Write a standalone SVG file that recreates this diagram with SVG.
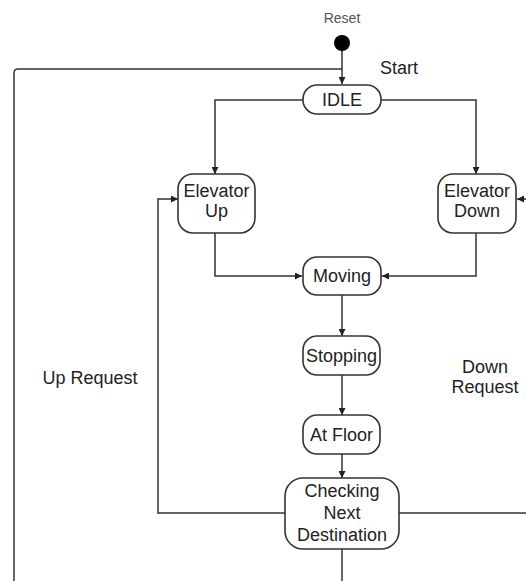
<svg xmlns="http://www.w3.org/2000/svg" width="526" height="581" viewBox="0 0 526 581">
<style>
.node{fill:#fff;stroke:#333;stroke-width:1.6}
.lbl{font-family:"Liberation Sans",Arial,sans-serif;font-size:18px;fill:#222;text-anchor:middle}
.edge{fill:none;stroke:#333;stroke-width:1.5}
</style>
<defs>
<marker id="ah" viewBox="0 0 10 10" refX="10" refY="5" markerWidth="7" markerHeight="7" markerUnits="userSpaceOnUse" orient="auto">
<path d="M0,0 L10,5 L0,10 Z" fill="#222"/>
</marker>
</defs>
<rect width="526" height="581" fill="#fff"/>
<g id="connectors">
<path class="edge" d="M342,50 V84" marker-end="url(#ah)"/>
<path class="edge" d="M342,69 H18 Q14,69 14,73 V581"/>
<path class="edge" d="M303,100 H215 V174" marker-end="url(#ah)"/>
<path class="edge" d="M381,100 H476 V174" marker-end="url(#ah)"/>
<path class="edge" d="M215,233 V276 H302" marker-end="url(#ah)"/>
<path class="edge" d="M476,233 V276 H382" marker-end="url(#ah)"/>
<path class="edge" d="M342,295 V336" marker-end="url(#ah)"/>
<path class="edge" d="M342,375 V415" marker-end="url(#ah)"/>
<path class="edge" d="M342,454 V478" marker-end="url(#ah)"/>
<path class="edge" d="M285,513 H158 V199 H178" marker-end="url(#ah)"/>
<path class="edge" d="M399,513 H526"/>
<path class="edge" d="M526,199 H517" marker-end="url(#ah)"/>
<path class="edge" d="M342,549 V581"/>
</g>
<g id="reset">
<text x="342" y="23" font-family="'Liberation Sans',Arial,sans-serif" font-size="14" fill="#555" text-anchor="middle">Reset</text>
<circle cx="342" cy="43" r="8" fill="#000"/>
</g>
<text class="lbl" x="399" y="74">Start</text>
<text class="lbl" x="90" y="384">Up Request</text>
<text class="lbl" x="485" y="373">Down</text>
<text class="lbl" x="485" y="393">Request</text>
<g id="idle">
<rect class="node" x="303" y="85" width="78" height="29" rx="14"/>
<text class="lbl" x="342" y="106">IDLE</text>
</g>
<g id="elevator-up">
<rect class="node" x="178" y="174" width="77" height="59" rx="15"/>
<text class="lbl" x="216.5" y="197">Elevator</text>
<text class="lbl" x="216.5" y="217">Up</text>
</g>
<g id="elevator-down">
<rect class="node" x="438" y="174" width="78" height="59" rx="15"/>
<text class="lbl" x="477" y="197">Elevator</text>
<text class="lbl" x="477" y="217">Down</text>
</g>
<g id="moving">
<rect class="node" x="303" y="257" width="78" height="38" rx="14"/>
<text class="lbl" x="342" y="282">Moving</text>
</g>
<g id="stopping">
<rect class="node" x="303" y="336" width="77" height="39" rx="14"/>
<text class="lbl" x="341.5" y="362">Stopping</text>
</g>
<g id="at-floor">
<rect class="node" x="303" y="415" width="77" height="39" rx="14"/>
<text class="lbl" x="341.5" y="441">At Floor</text>
</g>
<g id="checking">
<rect class="node" x="285" y="478" width="114" height="71" rx="18"/>
<text class="lbl" x="342" y="497">Checking</text>
<text class="lbl" x="342" y="519">Next</text>
<text class="lbl" x="342" y="541">Destination</text>
</g>
</svg>
